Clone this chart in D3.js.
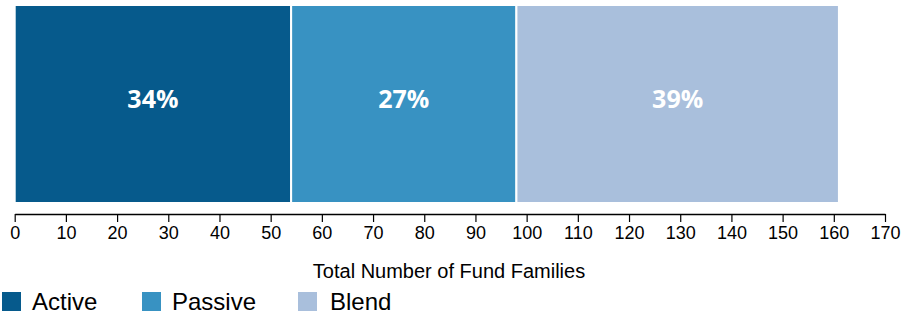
<!DOCTYPE html>
<html>
<head>
<meta charset="utf-8">
<script src="https://cdn.jsdelivr.net/npm/d3@7"></script>
<style>
  body { margin: 0; background: #fff; }
  svg { display: block; }
</style>
</head>
<body>
<svg width="902" height="315"></svg>
<script>
const categories = ["Active", "Passive", "Blend"];
const counts = [54, 44, 63];
const labels = ["34%", "27%", "39%"];
const colors = ["#065a8c", "#3892c2", "#a9bfdc"];
const tickValues = d3.range(0, 171, 10);

const svg = d3.select("svg");

const x = d3.scaleLinear().domain([0, 170]).range([14.7, 885]);

let start = 0;
const segments = counts.map((v, i) => {
    const s = {name: categories[i], x0: start, x1: start + v, label: labels[i], color: colors[i]};
    start += v;
    return s;
});

const barTop = 5, barBottom = 203;

svg.append("g")
    .selectAll("rect")
    .data(segments)
    .enter().append("rect")
    .attr("x", d => x(d.x0))
    .attr("y", barTop)
    .attr("width", d => x(d.x1) - x(d.x0))
    .attr("height", barBottom - barTop)
    .attr("fill", d => d.color)
    .attr("stroke", "#fff")
    .attr("stroke-width", 2);

svg.append("g")
    .selectAll("text")
    .data(segments)
    .enter().append("text")
    .attr("x", d => (x(d.x0) + x(d.x1)) / 2)
    .attr("y", 108)
    .attr("text-anchor", "middle")
    .style("font-family", "'Open Sans', sans-serif")
    .style("font-weight", "bold")
    .style("font-size", "25px")
    .style("fill", "#fff")
    .text(d => d.label);

const axis = svg.append("g")
    .attr("transform", "translate(0,214)")
    .call(d3.axisBottom(x).tickValues(tickValues).tickSize(8).tickPadding(4).tickSizeOuter(0));

axis.select(".domain").attr("stroke", "#000").attr("stroke-width", 1.5);
axis.selectAll(".tick line").attr("stroke", "#000").attr("stroke-width", 1.2);
axis.selectAll(".tick text")
    .style("font-family", "'Liberation Sans', Arial, sans-serif")
    .style("font-size", "18px")
    .style("fill", "#000");

svg.append("text")
    .attr("x", 449)
    .attr("y", 278)
    .attr("text-anchor", "middle")
    .style("font-family", "'Liberation Sans', Arial, sans-serif")
    .style("font-size", "20px")
    .style("fill", "#000")
    .text("Total Number of Fund Families");

const legendX = [2, 142, 298];
const legend = svg.append("g")
    .selectAll("g")
    .data(segments)
    .enter().append("g")
    .attr("transform", (d, i) => `translate(${legendX[i]},292)`);

legend.append("rect")
    .attr("width", 19)
    .attr("height", 19)
    .attr("fill", d => d.color);

legend.append("text")
    .attr("x", d => d.name === "Blend" ? 32 : 30)
    .attr("y", 18)
    .style("font-family", "'Liberation Sans', Arial, sans-serif")
    .style("font-size", "24px")
    .style("fill", "#000")
    .text(d => d.name);
</script>
</body>
</html>
